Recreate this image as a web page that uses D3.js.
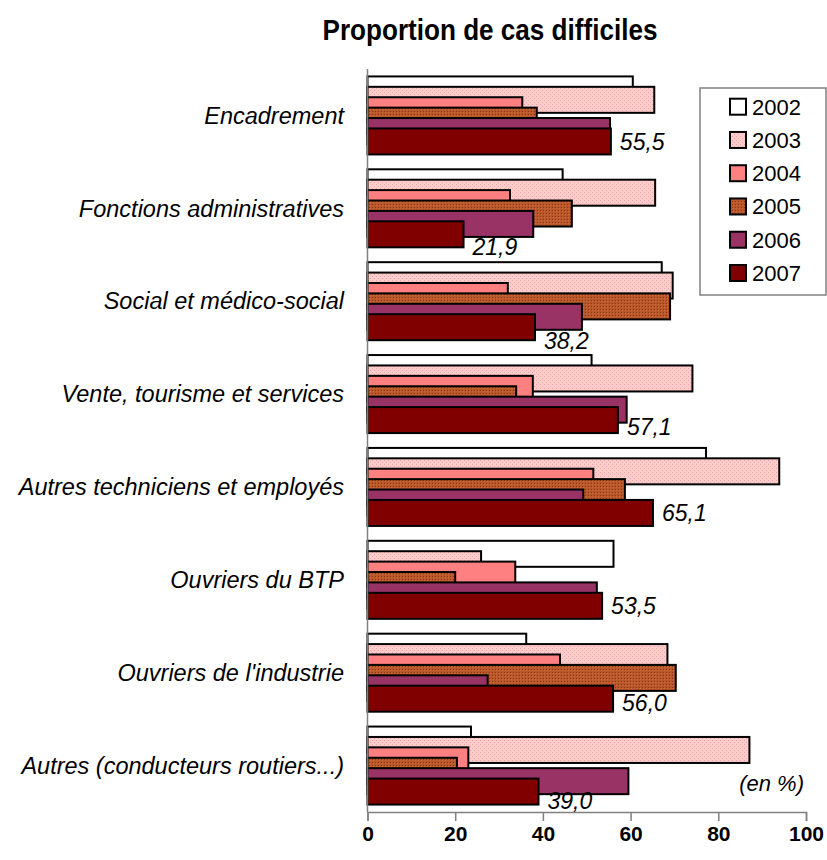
<!DOCTYPE html>
<html>
<head>
<meta charset="utf-8">
<script src="https://cdn.jsdelivr.net/npm/d3@7"></script>
<style>
  html, body { margin: 0; padding: 0; background: #fff; }
  svg { display: block; }
  text { font-family: "Liberation Sans Narrow", "Arial Narrow", "Liberation Sans", Arial, sans-serif; fill: #000; }
</style>
</head>
<body>
<svg id="chart" width="827" height="860"></svg>
<script>
// ---------- data ----------
const title = "Proportion de cas difficiles";
const categories = [
  "Encadrement",
  "Fonctions administratives",
  "Social et médico-social",
  "Vente, tourisme et services",
  "Autres techniciens et employés",
  "Ouvriers du BTP",
  "Ouvriers de l'industrie",
  "Autres (conducteurs routiers...)"
];
const years = ["2002", "2003", "2004", "2005", "2006", "2007"];
const v2002 = [60.5, 44.5, 67.1, 51.1, 77.2, 56.1, 36.2, 23.6];
const v2003 = [65.4, 65.6, 69.6, 74.1, 93.9, 25.9, 68.4, 87.1];
const v2004 = [35.3, 32.5, 32.0, 37.7, 51.5, 33.7, 43.9, 23.0];
const v2005 = [38.6, 46.6, 69.0, 33.9, 58.7, 20.0, 70.3, 20.4];
const v2006 = [55.3, 37.8, 48.9, 59.1, 49.2, 52.3, 27.4, 59.5];
const v2007 = [55.5, 21.9, 38.2, 57.1, 65.1, 53.5, 56.0, 39.0];
const xTicks = [0, 20, 40, 60, 80, 100];
const unitNote = "(en %)";

// ---------- layout / styles ----------
const seriesValues = [v2002, v2003, v2004, v2005, v2006, v2007];
const fills = ["#ffffff", "url(#pat2003)", "#ff8080", "url(#pat2005)", "#993366", "#800000"];
const labelNudge = [0, 12, 14, 7, 0, 0, 4, 9];

const svg = d3.select("#chart");
const defs = svg.append("defs");

// pattern 2003: light pink with faint dots
const p3 = defs.append("pattern").attr("id", "pat2003").attr("patternUnits", "userSpaceOnUse")
  .attr("width", 4).attr("height", 4);
p3.append("rect").attr("width", 4).attr("height", 4).attr("fill", "#ffcccc");
p3.append("rect").attr("x", 0).attr("y", 0).attr("width", 1).attr("height", 1).attr("fill", "#eea4a4");
p3.append("rect").attr("x", 2).attr("y", 2).attr("width", 1).attr("height", 1).attr("fill", "#eea4a4");

// pattern 2005: brown with darker dots
const p5 = defs.append("pattern").attr("id", "pat2005").attr("patternUnits", "userSpaceOnUse")
  .attr("width", 3).attr("height", 3);
p5.append("rect").attr("width", 3).attr("height", 3).attr("fill", "#b9582a");
p5.append("rect").attr("x", 0).attr("y", 0).attr("width", 1).attr("height", 1).attr("fill", "#8c3512");
p5.append("rect").attr("x", 1).attr("y", 1).attr("width", 1).attr("height", 1).attr("fill", "#d06a38");

const x = d3.scaleLinear().domain([0, 100]).range([367.5, 806]);
const y = d3.scaleBand().domain(categories).range([69, 812]).padding(0);

const groupH = y.bandwidth() * 0.84;
const barH = groupH / 3;
const stepH = (groupH - barH) / (years.length - 1);
const groupOff = (y.bandwidth() - groupH) / 2;
const barY = (cat, si) => y(cat) + groupOff + si * stepH;

// title (slightly condensed to mimic a narrow face)
svg.append("text").attr("transform", "translate(490,40) scale(0.9,1)").attr("text-anchor", "middle")
  .attr("font-size", 29).attr("font-weight", "bold").text(title);

// bars (series order: 2002 drawn first, 2007 last on top)
seriesValues.forEach((vals, si) => {
  svg.append("g").selectAll("rect").data(categories).join("rect")
    .attr("x", x(0))
    .attr("y", (c) => barY(c, si))
    .attr("width", (c, i) => x(vals[i]) - x(0))
    .attr("height", barH)
    .attr("fill", fills[si])
    .attr("stroke", "#000")
    .attr("stroke-width", 2);
});

// y axis line
svg.append("line").attr("x1", x(0)).attr("x2", x(0)).attr("y1", 69).attr("y2", 812)
  .attr("stroke", "#808080").attr("stroke-width", 1.5);

// x axis
const xAxis = svg.append("g").attr("transform", "translate(0,812)")
  .call(d3.axisBottom(x).tickValues(xTicks).tickSize(9).tickPadding(5).tickFormat(d3.format("d")));
xAxis.select(".domain").attr("stroke", "#808080").attr("stroke-width", 1.5);
xAxis.selectAll(".tick line").attr("stroke", "#808080").attr("stroke-width", 1.5);
xAxis.selectAll(".tick text").attr("font-size", 21).attr("font-weight", "bold")
  .attr("font-family", "'Liberation Sans Narrow', 'Arial Narrow', 'Liberation Sans', Arial, sans-serif")
  .attr("fill", "#000");

// category labels
svg.append("g").selectAll("text").data(categories).join("text")
  .attr("x", 344)
  .attr("y", (c) => y(c) + y.bandwidth() / 2)
  .attr("dy", "0.35em")
  .attr("text-anchor", "end")
  .attr("font-size", 23.5)
  .attr("font-style", "italic")
  .text((c) => c);

// data labels for 2007
const fmt = (v) => d3.format(".1f")(v).replace(".", ",");
svg.append("g").selectAll("text").data(categories).join("text")
  .attr("x", (c, i) => x(v2007[i]) + 9)
  .attr("y", (c, i) => barY(c, 5) + barH / 2 + labelNudge[i])
  .attr("dy", "0.36em")
  .attr("font-size", 23)
  .attr("font-style", "italic")
  .text((c, i) => fmt(v2007[i]));

// unit note
svg.append("text").attr("x", 804).attr("y", 791).attr("text-anchor", "end")
  .attr("font-size", 22).attr("font-style", "italic").text(unitNote);

// legend
const lg = svg.append("g");
lg.append("rect").attr("x", 700).attr("y", 88).attr("width", 126).attr("height", 207)
  .attr("fill", "#fff").attr("stroke", "#808080").attr("stroke-width", 1.5);
const ly = d3.scalePoint().domain(years).range([106.7, 273]);
years.forEach((yr, si) => {
  lg.append("rect").attr("x", 730).attr("y", ly(yr) - 8).attr("width", 16).attr("height", 16)
    .attr("fill", fills[si]).attr("stroke", "#000").attr("stroke-width", 2);
  lg.append("text").attr("x", 752).attr("y", ly(yr)).attr("dy", "0.36em")
    .attr("font-size", 22).text(yr);
});
</script>
</body>
</html>
